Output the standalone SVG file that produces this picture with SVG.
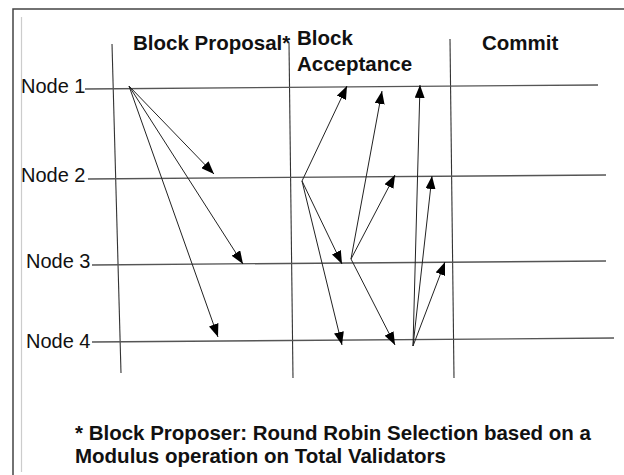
<svg xmlns="http://www.w3.org/2000/svg" width="624" height="475" viewBox="0 0 624 475">
<style>
.hdr{font-family:"Liberation Sans",Arial,sans-serif;font-weight:bold;font-size:20.5px;fill:#111}
.lbl{font-family:"Liberation Sans",Arial,sans-serif;font-size:20px;fill:#111}
.note{font-family:"Liberation Sans",Arial,sans-serif;font-weight:bold;font-size:20.5px;fill:#111}
.lane{stroke:#555;stroke-width:1.3;fill:none}
.col{stroke:#333;stroke-width:1.1;fill:none}
.arr{stroke:#222;stroke-width:1;fill:none;marker-end:url(#ah)}
.frame{stroke:#444;stroke-width:1.5;fill:none}
</style>
<defs>
<marker id="ah" markerUnits="userSpaceOnUse" markerWidth="14" markerHeight="10" refX="13" refY="5" orient="auto">
<path d="M0,0 L13,5 L0,10 z" fill="#000"/>
</marker>
</defs>
<rect width="624" height="475" fill="#fff"/>
<g id="frame">
<path class="frame" d="M13,475 L13,9 L624,9"/>
<line x1="21.5" y1="17" x2="21.5" y2="472" stroke="#ccc" stroke-width="1.2"/>
</g>
<g id="columns">
<line class="col" x1="112" y1="44" x2="121" y2="373"/>
<line class="col" x1="289" y1="43" x2="293" y2="378"/>
<line class="col" x1="450" y1="39" x2="454" y2="378"/>
<text class="hdr" x="133" y="50">Block Proposal*</text>
<text class="hdr" x="297" y="45">Block</text>
<text class="hdr" x="297" y="71">Acceptance</text>
<text class="hdr" x="482" y="50">Commit</text>
</g>
<g id="node1">
<line class="lane" x1="85" y1="89" x2="598" y2="85"/>
<text class="lbl" x="21" y="93">Node 1</text>
</g>
<g id="node2">
<line class="lane" x1="88" y1="179" x2="606" y2="175"/>
<text class="lbl" x="21" y="182">Node 2</text>
</g>
<g id="node3">
<line class="lane" x1="92" y1="265" x2="606" y2="261"/>
<text class="lbl" x="26" y="268">Node 3</text>
</g>
<g id="node4">
<line class="lane" x1="92" y1="342" x2="614" y2="338"/>
<text class="lbl" x="26" y="348">Node 4</text>
</g>
<g id="connectors">
<line class="arr" x1="129" y1="86" x2="214" y2="174"/>
<line class="arr" x1="129" y1="86" x2="243" y2="264"/>
<line class="arr" x1="129" y1="86" x2="218" y2="337"/>
<line class="arr" x1="302" y1="181" x2="347" y2="86"/>
<line class="arr" x1="302" y1="181" x2="342" y2="264"/>
<line class="arr" x1="302" y1="181" x2="342" y2="345"/>
<line class="arr" x1="351" y1="259" x2="382" y2="91"/>
<line class="arr" x1="351" y1="259" x2="395" y2="175"/>
<line class="arr" x1="351" y1="259" x2="395" y2="345"/>
<line class="arr" x1="413" y1="346" x2="420" y2="85"/>
<line class="arr" x1="413" y1="346" x2="432" y2="176"/>
<line class="arr" x1="413" y1="346" x2="445" y2="262"/>
</g>
<g id="footnote">
<text class="note" x="75" y="440">* Block Proposer: Round Robin Selection based on a</text>
<text class="note" x="75" y="463">Modulus operation on Total Validators</text>
</g>
</svg>
